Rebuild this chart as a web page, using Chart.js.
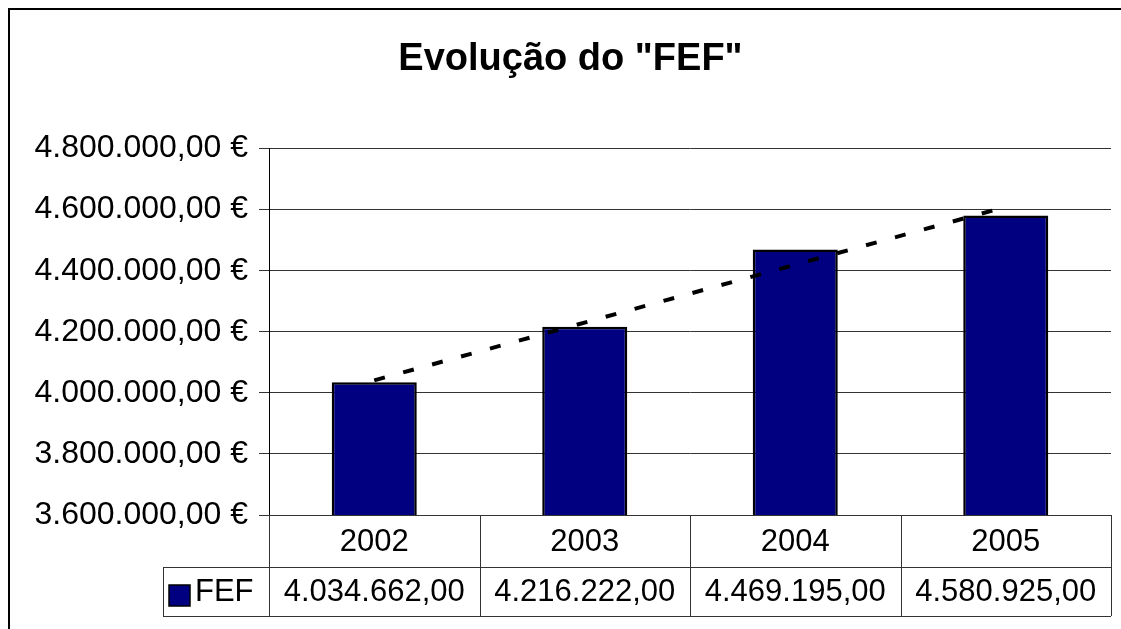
<!DOCTYPE html>
<html lang="pt">
<head>
  <meta charset="UTF-8" />
  <title>Evolução do "FEF"</title>
  <script src="https://cdn.jsdelivr.net/npm/chart.js"></script>
  <style>
    * { margin: 0; padding: 0; box-sizing: border-box; }
    body { background: #fff; width: 1121px; height: 629px; overflow: hidden; }
    #wrap { position: relative; width: 1121px; height: 629px; }
  </style>
</head>
<body>
  <div id="wrap"><canvas id="grafico" width="1121" height="629"></canvas></div>

  <script>
    // dados
    const anos = ['2002', '2003', '2004', '2005'];
    const valoresFEF = [4034662, 4216222, 4469195, 4580925];
    // linha de tendência: só os extremos
    const tendencia = [4041000, null, null, 4609000];
    const eixoMin = 3600000;
    const eixoMax = 4800000;
    const eixoPasso = 200000;

    const corBarra = '#000080';
    const fonte = "'Liberation Sans', Arial, sans-serif";

    // formato português: 4.800.000,00
    function formatar(v) {
      const inteiro = Math.round(v).toString().replace(/\B(?=(\d{3})+(?!\d))/g, '.');
      return inteiro + ',00';
    }

    // moldura do gráfico (canto superior esquerdo)
    const moldura = {
      id: 'moldura',
      beforeDraw(chart) {
        const c = chart.ctx;
        c.save();
        c.fillStyle = '#fff';
        c.fillRect(0, 0, chart.width, chart.height);
        c.strokeStyle = '#000';
        c.lineWidth = 2;
        c.beginPath();
        c.moveTo(9, chart.height);
        c.lineTo(9, 9);
        c.lineTo(chart.width, 9);
        c.stroke();
        c.restore();
      }
    };

    // tabela de dados por baixo do eixo
    const tabela = {
      id: 'tabela',
      afterDraw(chart) {
        const c = chart.ctx;
        const a = chart.chartArea;
        const n = anos.length;
        const colW = (a.right - a.left) / n;
        const y0 = a.bottom;
        const y1 = y0 + 52;
        const y2 = y1 + 49;
        const xLeg = 163;

        c.save();
        c.strokeStyle = '#333';
        c.lineWidth = 1;
        c.beginPath();
        for (let i = 0; i <= n; i++) {
          const x = Math.round(a.left + i * colW) + 0.5;
          c.moveTo(x, y0);
          c.lineTo(x, y2);
        }
        c.moveTo(xLeg + 0.5, y1);
        c.lineTo(xLeg + 0.5, y2);
        c.moveTo(xLeg, Math.round(y1) + 0.5);
        c.lineTo(a.right, Math.round(y1) + 0.5);
        c.moveTo(xLeg, Math.round(y2) + 0.5);
        c.lineTo(a.right, Math.round(y2) + 0.5);
        c.stroke();

        c.fillStyle = '#000';
        c.font = '31px ' + fonte;
        c.textAlign = 'center';
        c.textBaseline = 'middle';
        for (let i = 0; i < n; i++) {
          const xc = a.left + (i + 0.5) * colW;
          c.fillText(anos[i], xc, (y0 + y1) / 2 + 1);
          c.fillText(formatar(valoresFEF[i]), xc, (y1 + y2) / 2 + 1);
        }

        // chave da legenda
        c.fillStyle = corBarra;
        c.fillRect(169, 585, 21, 21);
        c.strokeStyle = '#000';
        c.lineWidth = 1.5;
        c.strokeRect(169, 585, 21, 21);
        c.fillStyle = '#000';
        c.textAlign = 'left';
        c.fillText('FEF', 195, (y1 + y2) / 2 + 1);
        c.restore();
      }
    };

    const ctx = document.getElementById('grafico').getContext('2d');
    Chart.defaults.font.family = fonte;
    Chart.defaults.color = '#000';

    new Chart(ctx, {
      type: 'bar',
      data: {
        labels: anos,
        datasets: [
          {
            type: 'line',
            label: 'Tendência',
            data: tendencia,
            spanGaps: true,
            borderColor: '#000',
            borderWidth: 4,
            borderDash: [11, 19],
            pointRadius: 0,
            fill: false,
            order: 0,
          },
          {
            label: 'FEF',
            data: valoresFEF,
            backgroundColor: corBarra,
            borderColor: '#000',
            borderWidth: 2.5,
            barPercentage: 0.404,
            categoryPercentage: 1,
            order: 1,
          },
        ],
      },
      options: {
        responsive: false,
        animation: false,
        layout: { padding: { left: 30, right: 10, top: 0, bottom: 114 } },
        scales: {
          x: { display: false, offset: true },
          y: {
            min: eixoMin,
            max: eixoMax,
            afterFit(scale) { scale.width = 239; },
            ticks: {
              stepSize: eixoPasso,
              padding: 11,
              color: '#000',
              font: { size: 32 },
              callback: (v) => formatar(v) + ' €',
            },
            grid: { color: '#333', tickLength: 10, tickColor: '#333' },
            border: { color: '#000', width: 1 },
          },
        },
        plugins: {
          legend: { display: false },
          tooltip: { enabled: false },
          title: {
            display: true,
            text: 'Evolução do "FEF"',
            color: '#000',
            font: { size: 38, weight: 'bold' },
            padding: { top: 37, bottom: 66 },
          },
        },
      },
      plugins: [moldura, tabela],
    });
  </script>
</body>
</html>
